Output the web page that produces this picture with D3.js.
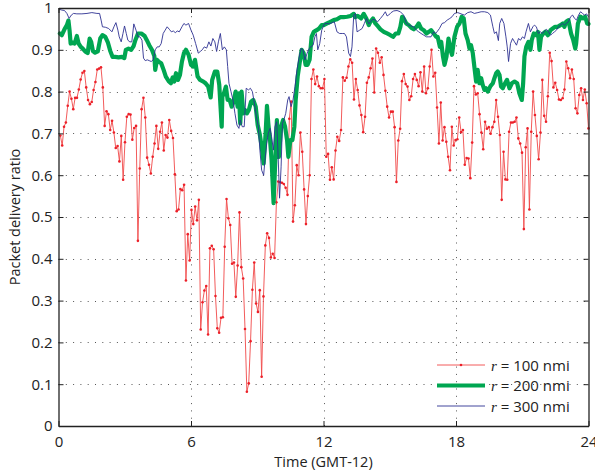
<!DOCTYPE html>
<html>
<head>
<meta charset="utf-8">
<script src="https://cdn.jsdelivr.net/npm/d3@7"></script>
<style>
  html, body { margin: 0; padding: 0; background: #fff; }
  svg { display: block; font-family: "Open Sans", "Noto Sans", sans-serif; }
</style>
</head>
<body>
<svg id="chart" width="595" height="473"></svg>
<script>
// Axis ticks
const hourTicks = [0, 6, 12, 18, 24];
const ratioTicks = [0, 0.1, 0.2, 0.3, 0.4, 0.5, 0.6, 0.7, 0.8, 0.9, 1];

// r = 100 nmi: one sample roughly every 5 minutes over the day
const ratio100 = [
  0.695, 0.671, 0.716, 0.726, 0.766, 0.800, 0.783, 0.758, 0.785, 0.785,
  0.805, 0.829, 0.845, 0.849, 0.810, 0.780, 0.770, 0.775, 0.804, 0.823,
  0.853, 0.855, 0.858, 0.810, 0.718, 0.753, 0.746, 0.708, 0.730, 0.702,
  0.665, 0.670, 0.633, 0.694, 0.589, 0.679, 0.740, 0.746, 0.745, 0.685,
  0.713, 0.718, 0.443, 0.616, 0.758, 0.785, 0.738, 0.642, 0.625, 0.604,
  0.644, 0.676, 0.718, 0.663, 0.704, 0.726, 0.659, 0.696, 0.690, 0.732,
  0.706, 0.689, 0.602, 0.514, 0.518, 0.567, 0.564, 0.577, 0.348, 0.459,
  0.396,
  0.517, 0.483, 0.525, 0.492, 0.541, 0.231, 0.296, 0.324, 0.335, 0.219,
  0.425, 0.431, 0.423, 0.311, 0.234, 0.223, 0.259, 0.260, 0.429, 0.543,
  0.497, 0.481, 0.388, 0.391, 0.309, 0.384, 0.511, 0.380, 0.353, 0.232,
  0.082, 0.102, 0.203, 0.326, 0.391, 0.293, 0.273, 0.325, 0.118, 0.310,
  0.432, 0.461, 0.450, 0.403, 0.412, 0.402,
  0.535, 0.585, 0.583, 0.582, 0.579, 0.570, 0.553, 0.735, 0.776, 0.489,
  0.528, 0.624, 0.600, 0.702, 0.656, 0.566, 0.483, 0.550, 0.600, 0.830,
  0.853, 0.818, 0.836, 0.813, 0.808, 0.808, 0.830,
  0.644, 0.651, 0.589, 0.619, 0.590, 0.659, 0.692, 0.682, 0.708, 0.834,
  0.826, 0.833, 0.860, 0.877, 0.869, 0.781, 0.830, 0.804, 0.767, 0.744,
  0.703, 0.740, 0.821, 0.834, 0.856, 0.879, 0.798, 0.903, 0.893, 0.869,
  0.882, 0.840, 0.802, 0.764, 0.738, 0.752, 0.752, 0.715, 0.584, 0.683,
  0.711, 0.825, 0.842, 0.818, 0.812, 0.780, 0.789, 0.830, 0.842, 0.828,
  0.813, 0.846, 0.800, 0.860, 0.796, 0.808, 0.860, 0.900, 0.836, 0.845,
  0.762, 0.676, 0.774, 0.683, 0.715, 0.680, 0.644, 0.612, 0.716, 0.671,
  0.684,
  0.686, 0.738, 0.703, 0.708, 0.625, 0.641, 0.640, 0.593, 0.678, 0.813,
  0.793, 0.796, 0.746, 0.702, 0.662, 0.728, 0.711, 0.715, 0.699, 0.715,
  0.728, 0.780, 0.740, 0.696, 0.541, 0.656, 0.590, 0.589, 0.704, 0.726,
  0.726, 0.728, 0.738, 0.688, 0.676, 0.654, 0.471, 0.667, 0.712, 0.518,
  0.704, 0.800, 0.744, 0.694, 0.638, 0.702, 0.828, 0.742, 0.728, 0.789,
  0.893, 0.873, 0.810, 0.821, 0.804, 0.781, 0.780, 0.784, 0.805, 0.872,
  0.856, 0.832, 0.853, 0.830, 0.760, 0.748, 0.792, 0.808, 0.780, 0.805,
  0.772, 0.712
];

// r = 200 nmi
const hours200 = [
  0.06, 0.15, 0.27, 0.38, 0.45, 0.50, 0.55, 0.64, 0.73, 0.83, 0.91, 1.01, 1.10, 1.21, 1.32,
  1.41, 1.48, 1.56, 1.66, 1.78, 1.89, 1.99, 2.12, 2.24, 2.34, 2.45, 2.57, 2.72, 2.87, 2.98,
  3.05, 3.17, 3.29, 3.40, 3.48, 3.60, 3.75, 3.90, 4.00, 4.11, 4.23, 4.34, 4.38, 4.46, 4.53,
  4.65, 4.76, 4.86, 4.99, 5.09, 5.17, 5.24, 5.32, 5.41, 5.50, 5.59, 5.68, 5.77, 5.89,
  6.00, 6.10, 6.18, 6.30, 6.41, 6.56, 6.66, 6.78, 6.89, 6.96, 7.08, 7.19, 7.28, 7.39, 7.42,
  7.49, 7.58, 7.66, 7.75, 7.84, 7.93, 8.02, 8.11, 8.17, 8.23, 8.29, 8.37, 8.44, 8.53, 8.62,
  8.72, 8.82, 8.93, 9.02, 9.12, 9.20, 9.29, 9.38, 9.44, 9.50, 9.58, 9.65, 9.74, 9.83, 9.89,
  9.98, 10.08, 10.17, 10.26, 10.35, 10.41, 10.50, 10.59, 10.68, 10.74, 10.83, 10.94, 11.01, 11.10, 11.19,
  11.28, 11.37, 11.46, 11.56, 11.69, 11.80, 11.92,
  12.01, 12.16, 12.31, 12.46, 12.61, 12.76, 12.91, 13.07, 13.22, 13.37, 13.44, 13.55, 13.70, 13.82, 13.94,
  14.05, 14.12, 14.24, 14.35, 14.45, 14.58, 14.73, 14.88, 15.03, 15.15, 15.27, 15.39, 15.48, 15.56, 15.63,
  15.75, 15.86, 15.97, 16.09, 16.21, 16.31, 16.42, 16.54, 16.66, 16.77, 16.87, 16.99, 17.11, 17.17, 17.27,
  17.33, 17.41, 17.48, 17.57, 17.66, 17.75, 17.82, 17.93,
  18.05, 18.16, 18.26, 18.35, 18.43, 18.53, 18.61, 18.68, 18.76, 18.83, 18.91, 18.98, 19.06, 19.14, 19.21,
  19.29, 19.36, 19.44, 19.56, 19.67, 19.74, 19.82, 19.89, 19.97, 20.04, 20.12, 20.22, 20.31, 20.42, 20.53,
  20.65, 20.77, 20.87, 20.98, 21.04, 21.10, 21.18, 21.28, 21.37, 21.43, 21.52, 21.63, 21.71, 21.78, 21.85,
  21.95, 22.04, 22.16, 22.28, 22.38, 22.49, 22.61, 22.73, 22.84, 22.91, 22.99, 23.09, 23.21, 23.31, 23.40,
  23.44, 23.52, 23.64, 23.74, 23.85, 23.94, 24.00
];
const ratio200 = [
  0.939, 0.935, 0.949, 0.959, 0.970, 0.947, 0.915, 0.917, 0.915, 0.933, 0.915, 0.907, 0.903, 0.896, 0.892,
  0.927, 0.919, 0.897, 0.893, 0.896, 0.927, 0.935, 0.931, 0.917, 0.898, 0.883, 0.883, 0.882, 0.883, 0.880,
  0.900, 0.903, 0.900, 0.909, 0.923, 0.939, 0.939, 0.933, 0.923, 0.911, 0.900, 0.885, 0.852, 0.876, 0.872,
  0.868, 0.852, 0.836, 0.825, 0.820, 0.834, 0.824, 0.844, 0.828, 0.840, 0.872, 0.892, 0.900, 0.888,
  0.864, 0.860, 0.876, 0.836, 0.828, 0.824, 0.820, 0.812, 0.786, 0.828, 0.848, 0.848, 0.816, 0.716, 0.788,
  0.796, 0.812, 0.780, 0.780, 0.764, 0.776, 0.800, 0.764, 0.796, 0.724, 0.800, 0.748, 0.756, 0.748, 0.756,
  0.776, 0.780, 0.764, 0.720, 0.696, 0.668, 0.628, 0.700, 0.766, 0.724, 0.684, 0.636, 0.533, 0.652, 0.732,
  0.644, 0.716, 0.732, 0.716, 0.684, 0.644, 0.684, 0.684, 0.716, 0.780, 0.836, 0.876, 0.900, 0.892, 0.864,
  0.864, 0.876, 0.931, 0.943, 0.947, 0.951, 0.959,
  0.959, 0.963, 0.967, 0.971, 0.973, 0.978, 0.978, 0.979, 0.981, 0.986, 0.978, 0.981, 0.975, 0.986, 0.975,
  0.959, 0.967, 0.975, 0.963, 0.957, 0.949, 0.943, 0.939, 0.935, 0.931, 0.939, 0.939, 0.955, 0.979, 0.975,
  0.963, 0.959, 0.953, 0.949, 0.955, 0.963, 0.951, 0.947, 0.939, 0.943, 0.947, 0.939, 0.931, 0.931, 0.907,
  0.919, 0.884, 0.864, 0.884, 0.927, 0.900, 0.888, 0.931,
  0.955, 0.963, 0.979, 0.975, 0.939, 0.923, 0.903, 0.911, 0.892, 0.860, 0.824, 0.852, 0.820, 0.832, 0.816,
  0.804, 0.808, 0.800, 0.813, 0.820, 0.832, 0.844, 0.848, 0.840, 0.812, 0.808, 0.820, 0.828, 0.808, 0.820,
  0.824, 0.820, 0.796, 0.780, 0.820, 0.884, 0.907, 0.919, 0.900, 0.923, 0.939, 0.935, 0.943, 0.900, 0.931,
  0.939, 0.943, 0.935, 0.947, 0.951, 0.955, 0.955, 0.959, 0.963, 0.955, 0.967, 0.971, 0.939, 0.923, 0.903,
  0.915, 0.963, 0.979, 0.975, 0.979, 0.963, 0.962
];

// r = 300 nmi
const hours300 = [
  0.03, 0.15, 0.27, 0.38, 0.48, 0.58, 0.68, 0.83, 1.06, 1.29, 1.51, 1.74, 1.86, 1.93, 1.99,
  2.12, 2.27, 2.42, 2.51, 2.60, 2.69, 2.75, 2.84, 2.92, 2.99, 3.07, 3.14, 3.23, 3.32, 3.41,
  3.51, 3.60, 3.69, 3.78, 3.85, 3.93, 4.02, 4.11, 4.20, 4.29, 4.38, 4.47, 4.56, 4.65, 4.74,
  4.83, 4.92, 5.02, 5.11, 5.20, 5.29, 5.38, 5.47, 5.59, 5.68, 5.77, 5.89,
  6.00, 6.10, 6.21, 6.33, 6.42, 6.51, 6.60, 6.71, 6.81, 6.90, 6.99, 7.08, 7.16, 7.24, 7.33,
  7.42, 7.51, 7.60, 7.66, 7.72, 7.81, 7.90, 7.99, 8.08, 8.17, 8.23, 8.32, 8.41, 8.50, 8.60,
  8.69, 8.78, 8.87, 8.96, 9.05, 9.12, 9.20, 9.29, 9.35, 9.43, 9.50, 9.58, 9.65, 9.73, 9.80,
  9.88, 9.95, 10.01, 10.08, 10.14, 10.20, 10.29, 10.38, 10.44, 10.53, 10.62, 10.71, 10.80, 10.89, 10.98,
  11.07, 11.16, 11.26, 11.35, 11.43, 11.53, 11.61, 11.68, 11.74, 11.83, 11.92,
  12.04, 12.16, 12.28, 12.39, 12.49, 12.61, 12.73, 12.85, 12.95, 13.04, 13.14, 13.22, 13.29, 13.37, 13.44,
  13.52, 13.64, 13.75, 13.85, 13.94, 14.05, 14.12, 14.24, 14.35, 14.45, 14.58, 14.70, 14.80, 14.88, 14.95,
  15.06, 15.18, 15.33, 15.48, 15.63, 15.75, 15.86, 15.97, 16.09, 16.21, 16.31, 16.42, 16.54, 16.66, 16.77,
  16.87, 16.99, 17.07, 17.14, 17.25, 17.37, 17.48, 17.60, 17.72, 17.82, 17.93,
  18.08, 18.23, 18.38, 18.53, 18.68, 18.83, 18.99, 19.14, 19.29, 19.44, 19.56, 19.67, 19.74, 19.83, 19.92,
  19.98, 20.07, 20.17, 20.26, 20.32, 20.38, 20.47, 20.56, 20.65, 20.74, 20.83, 20.92, 21.01, 21.10, 21.17,
  21.28, 21.37, 21.48, 21.55, 21.64, 21.73, 21.82, 21.91, 22.01, 22.10, 22.19, 22.28, 22.37, 22.46, 22.55,
  22.64, 22.73, 22.82, 22.91, 23.00, 23.09, 23.19, 23.28, 23.37, 23.46, 23.55, 23.64, 23.73, 23.82, 23.91,
  24.00
];
const ratio300 = [
  0.997, 0.995, 0.994, 0.987, 0.975, 0.983, 0.987, 0.986, 0.986, 0.987, 0.989, 0.987, 0.987, 0.971, 0.955,
  0.954, 0.951, 0.943, 0.955, 0.965, 0.947, 0.931, 0.919, 0.939, 0.957, 0.939, 0.923, 0.919, 0.919, 0.962,
  0.947, 0.931, 0.931, 0.923, 0.880, 0.874, 0.876, 0.874, 0.872, 0.876, 0.900, 0.907, 0.907, 0.915, 0.939,
  0.947, 0.955, 0.949, 0.943, 0.945, 0.941, 0.945, 0.943, 0.955, 0.963, 0.959, 0.963,
  0.947, 0.935, 0.915, 0.892, 0.896, 0.900, 0.907, 0.904, 0.919, 0.909, 0.927, 0.919, 0.896, 0.919, 0.939,
  0.900, 0.907, 0.900, 0.860, 0.820, 0.800, 0.780, 0.748, 0.720, 0.712, 0.732, 0.716, 0.716, 0.808, 0.804,
  0.808, 0.800, 0.772, 0.740, 0.716, 0.660, 0.612, 0.600, 0.636, 0.676, 0.700, 0.712, 0.692, 0.660, 0.716,
  0.728, 0.640, 0.545, 0.620, 0.724, 0.732, 0.748, 0.780, 0.788, 0.764, 0.780, 0.812, 0.852, 0.880, 0.903,
  0.900, 0.876, 0.892, 0.903, 0.907, 0.911, 0.931, 0.939, 0.900, 0.915, 0.947,
  0.962, 0.963, 0.962, 0.965, 0.967, 0.943, 0.939, 0.939, 0.939, 0.931, 0.892, 0.884, 0.907, 0.983, 0.987,
  0.943, 0.947, 0.951, 0.963, 0.975, 0.962, 0.967, 0.973, 0.971, 0.967, 0.975, 0.983, 0.991, 0.981, 0.983,
  0.989, 0.993, 0.994, 0.991, 0.983, 0.963, 0.959, 0.957, 0.955, 0.947, 0.943, 0.939, 0.935, 0.931, 0.931,
  0.931, 0.943, 0.939, 0.943, 0.951, 0.963, 0.965, 0.971, 0.975, 0.979, 0.987,
  0.989, 0.986, 0.983, 0.989, 0.991, 0.987, 0.989, 0.991, 0.991, 0.989, 0.983, 0.955, 0.939, 0.943, 0.922,
  0.963, 0.975, 0.963, 0.931, 0.907, 0.872, 0.915, 0.927, 0.919, 0.911, 0.927, 0.923, 0.931, 0.927, 0.943,
  0.963, 0.943, 0.955, 0.959, 0.955, 0.939, 0.943, 0.939, 0.945, 0.949, 0.943, 0.935, 0.939, 0.943, 0.947,
  0.955, 0.959, 0.963, 0.959, 0.963, 0.967, 0.979, 0.983, 0.975, 0.971, 0.983, 0.991, 0.987, 0.983, 0.986,
  0.979
];

const legendRanges = ["100", "200", "300"];
const seriesColors = ["#ec2029", "#00a651", "#2e3192"];

const W = 595, H = 473;
const plot = { left: 58.5, right: 588.5, top: 8, bottom: 426 };

const x = d3.scaleLinear().domain([0, 24]).range([plot.left, plot.right]);
const y = d3.scaleLinear().domain([0, 1]).range([plot.bottom, plot.top]);

const svg = d3.select("#chart");

// dotted grid
const grid = svg.append("g").attr("stroke", "#555").attr("stroke-width", 1)
  .attr("stroke-dasharray", "1,6.3").attr("fill", "none");
grid.selectAll("line.v").data(hourTicks.slice(1, -1)).join("line")
  .attr("x1", d => Math.round(x(d)) + 0.5).attr("x2", d => Math.round(x(d)) + 0.5)
  .attr("y1", plot.bottom).attr("y2", plot.top);
grid.selectAll("line.h").data(ratioTicks.slice(1, -1)).join("line")
  .attr("y1", d => Math.round(y(d)) + 0.5).attr("y2", d => Math.round(y(d)) + 0.5)
  .attr("x1", plot.left).attr("x2", plot.right);

// series
const pairs = (hs, vs) => hs.map((h, i) => [h, vs[i]]);
const red = ratio100.map((v, i) => [(i + 1) * 24 / ratio100.length, v]);
const line = d3.line().x(d => x(d[0])).y(d => y(d[1]));

svg.append("path").datum(red).attr("d", line)
  .attr("fill", "none").attr("stroke", "#f04848").attr("stroke-width", 0.9)
  .attr("stroke-linejoin", "round");
svg.append("g").selectAll("circle").data(red).join("circle")
  .attr("cx", d => x(d[0])).attr("cy", d => y(d[1])).attr("r", 1.3)
  .attr("fill", seriesColors[0]);

svg.append("path").datum(pairs(hours200, ratio200)).attr("d", line)
  .attr("fill", "none").attr("stroke", seriesColors[1]).attr("stroke-width", 4.2)
  .attr("stroke-linejoin", "round").attr("stroke-linecap", "round");

svg.append("path").datum(pairs(hours300, ratio300)).attr("d", line)
  .attr("fill", "none").attr("stroke", seriesColors[2]).attr("stroke-width", 0.9)
  .attr("stroke-linejoin", "round");

// axes with inward ticks on all four sides
const fmt = d3.format("~g");
const axB = svg.append("g").attr("transform", `translate(0,${plot.bottom})`)
  .call(d3.axisBottom(x).tickValues(hourTicks).tickSizeInner(-5).tickSizeOuter(0).tickPadding(10).tickFormat(fmt));
const axL = svg.append("g").attr("transform", `translate(${plot.left},0)`)
  .call(d3.axisLeft(y).tickValues(ratioTicks).tickSizeInner(-5).tickSizeOuter(0).tickPadding(6).tickFormat(fmt));
const axT = svg.append("g").attr("transform", `translate(0,${plot.top})`)
  .call(d3.axisTop(x).tickValues(hourTicks).tickSizeInner(-5).tickSizeOuter(0).tickFormat(""));
const axR = svg.append("g").attr("transform", `translate(${plot.right},0)`)
  .call(d3.axisRight(y).tickValues(ratioTicks).tickSizeInner(-5).tickSizeOuter(0).tickFormat(""));
[axB, axL, axT, axR].forEach(g => {
  g.select(".domain").attr("stroke", "#222").attr("stroke-width", 1.3);
  g.selectAll(".tick line").attr("stroke", "#222");
  g.selectAll("text").attr("font-size", 15).attr("fill", "#222")
    .attr("font-family", "'Open Sans', sans-serif");
});

// axis titles
svg.append("text").attr("x", (plot.left + plot.right) / 2).attr("y", 467)
  .attr("text-anchor", "middle").attr("font-size", 14.5).attr("fill", "#222")
  .text("Time (GMT-12)");
svg.append("text").attr("transform", `translate(20,${(plot.top + plot.bottom) / 2}) rotate(-90)`)
  .attr("text-anchor", "middle").attr("font-size", 14.5).attr("fill", "#222")
  .text("Packet delivery ratio");

// legend
const legend = svg.append("g");
const rowY = d3.scalePoint().domain(legendRanges).range([365, 406]);
legendRanges.forEach((r, i) => {
  const yy = rowY(r);
  legend.append("line").attr("x1", 437).attr("x2", 485).attr("y1", yy).attr("y2", yy)
    .attr("stroke", i === 0 ? "#f04848" : seriesColors[i])
    .attr("stroke-width", i === 1 ? 4.2 : 0.9);
  if (i === 0) legend.append("circle").attr("cx", 461).attr("cy", yy).attr("r", 1.3).attr("fill", seriesColors[0]);
  const t = legend.append("text").attr("x", 491).attr("y", yy + 5.5).attr("font-size", 15).attr("fill", "#222");
  t.append("tspan").attr("font-style", "italic").attr("font-family", "'Liberation Serif', serif").text("r");
  t.append("tspan").text(` = ${r} nmi`);
});
</script>
</body>
</html>
